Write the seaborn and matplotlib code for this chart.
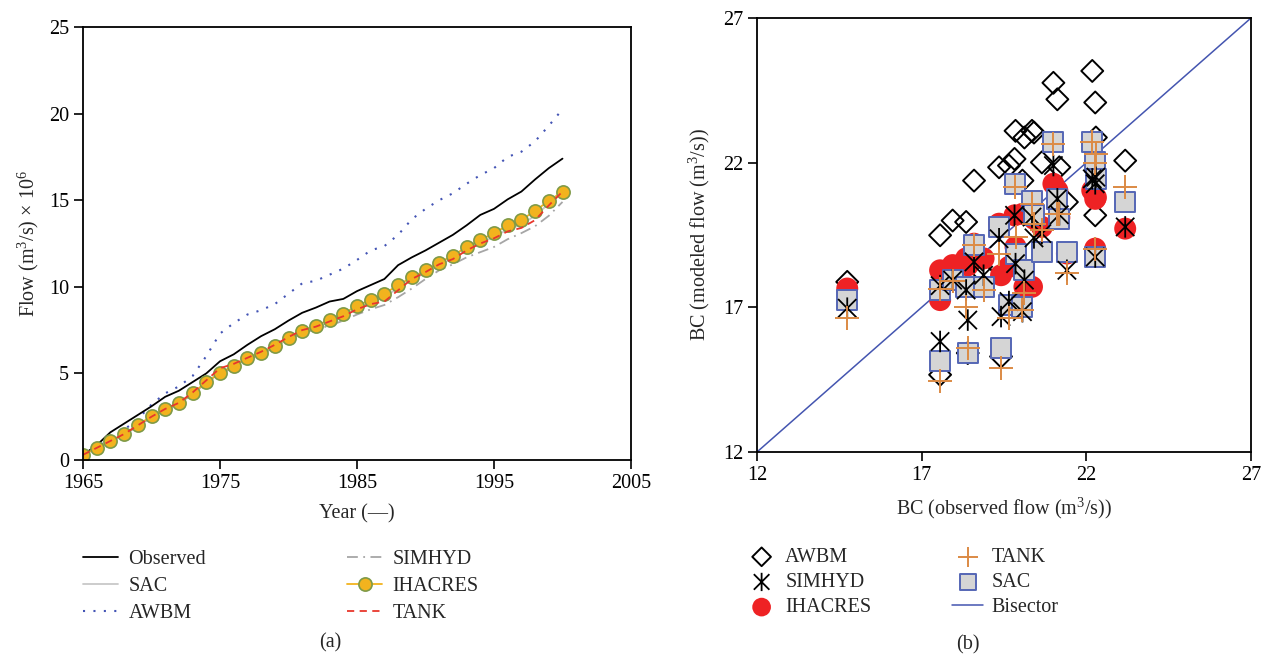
import numpy as np
import pandas as pd
import matplotlib
matplotlib.use("Agg")
import matplotlib.pyplot as plt
from matplotlib.path import Path
import seaborn as sns

# ---------------- data: panel (a) cumulative flow ----------------
years = list(range(1965, 2001))
observed = [0.3, 0.85, 1.6, 2.1, 2.6, 3.1, 3.65, 4.0, 4.5, 5.0, 5.7, 6.1, 6.65, 7.15, 7.55, 8.05,
            8.5, 8.8, 9.15, 9.3, 9.75, 10.1, 10.45, 11.25, 11.7, 12.1, 12.55, 13.0, 13.55, 14.15,
            14.5, 15.05, 15.5, 16.2, 16.85, 17.4]
sac = [0.3, 0.68, 1.08, 1.48, 1.98, 2.5, 2.9, 3.25, 3.82, 4.5, 5.05, 5.4, 5.85, 6.15, 6.55, 7.0,
       7.4, 7.65, 7.95, 8.3, 8.75, 9.1, 9.4, 9.95, 10.4, 10.8, 11.25, 11.65, 12.1, 12.5, 12.9,
       13.3, 13.6, 14.1, 14.8, 15.4]
awbm = [0.3, 0.75, 1.25, 1.75, 2.35, 3.2, 3.85, 4.25, 4.85, 6.0, 7.3, 7.9, 8.4, 8.65, 9.0, 9.6,
        10.2, 10.35, 10.7, 11.05, 11.55, 12.1, 12.35, 13.0, 13.9, 14.5, 15.0, 15.4, 15.95, 16.45,
        16.85, 17.5, 17.8, 18.4, 19.3, 20.25]
simhyd = [0.3, 0.68, 1.05, 1.45, 1.95, 2.45, 2.9, 3.25, 3.8, 4.45, 4.95, 5.35, 5.8, 6.1, 6.5,
          6.95, 7.3, 7.55, 7.75, 8.05, 8.4, 8.7, 8.95, 9.4, 9.9, 10.45, 10.95, 11.3, 11.7, 12.0,
          12.3, 12.75, 13.1, 13.5, 14.1, 14.9]
ihacres = [0.3, 0.7, 1.1, 1.5, 2.0, 2.55, 2.95, 3.3, 3.85, 4.5, 5.0, 5.45, 5.9, 6.2, 6.6, 7.05,
           7.45, 7.75, 8.1, 8.45, 8.9, 9.25, 9.6, 10.1, 10.55, 10.95, 11.4, 11.8, 12.3, 12.7,
           13.1, 13.55, 13.85, 14.4, 14.95, 15.5]
tank = [0.3, 0.7, 1.1, 1.5, 2.0, 2.5, 2.95, 3.3, 3.9, 4.6, 5.3, 5.55, 5.9, 6.25, 6.65, 7.1, 7.5,
        7.7, 8.0, 8.3, 8.7, 9.0, 9.15, 9.8, 10.45, 10.85, 11.3, 11.6, 12.1, 12.5, 12.8, 13.2,
        13.4, 13.85, 14.7, 15.5]
left_xticks = [1965, 1975, 1985, 1995, 2005]
left_yticks = [0, 5, 10, 15, 20, 25]

# ---------------- data: panel (b) BC scatter ----------------
bc_obs = [14.74, 17.56, 17.56, 17.94, 18.35, 18.40, 18.59, 18.88, 19.35, 19.41, 19.65, 19.82,
          19.85, 20.12, 20.06, 20.35, 20.41, 20.65, 21.0, 21.12, 21.18, 21.41, 22.18, 22.27,
          22.29, 22.27, 23.18]
bc_awbm = [17.88, 19.49, 14.67, 20.0, 19.95, 15.42, 21.38, 18.17, 21.84, 15.3, 21.9, 22.13,
           23.1, 22.87, 21.38, 23.1, 23.04, 22.01, 24.76, 24.19, 21.84, 20.64, 25.17, 24.08,
           22.87, 20.18, 22.07]
bc_simhyd = [16.97, 17.75, 15.82, 17.94, 17.6, 16.56, 18.57, 18.11, 19.37, 16.68, 17.2, 20.18,
             18.51, 17.94, 16.85, 20.12, 19.4, 19.55, 21.9, 20.75, 20.2, 18.28, 21.44, 21.27,
             21.5, 18.74, 19.78]
bc_ihacres = [17.65, 18.28, 17.25, 18.46, 18.69, 18.45, 19.2, 18.69, 19.89, 18.11, 18.4, 20.18,
              19.09, 17.71, 20.23, 17.71, 20.06, 19.78, 21.27, 21.04, 20.1, 18.86, 21.04, 20.75,
              20.8, 19.03, 19.72]
bc_tank = [16.62, 17.65, 14.44, 17.9, 17.02, 15.6, 19.14, 17.6, 18.86, 14.9, 16.62, 21.15,
           19.43, 17.48, 16.91, 20.58, 19.89, 19.66, 22.64, 20.23, 20.23, 18.17, 22.7, 22.0,
           22.3, 19.03, 21.15]
bc_sac = [17.25, 17.6, 15.13, 17.94, 17.71, 15.42, 19.14, 17.71, 19.78, 15.6, 17.08, 21.27,
          18.86, 18.28, 17.02, 20.69, 20.2, 18.91, 22.7, 20.75, 20.06, 18.91, 22.7, 22.01,
          21.44, 18.74, 20.64]
bisector = [12, 27]
right_ticks = [12, 17, 22, 27]

# ---------------- style ----------------
sns.set_style("ticks")
plt.rcParams["font.family"] = ["Liberation Serif", "DejaVu Serif"]
plt.rcParams["mathtext.fontset"] = "custom"
plt.rcParams["mathtext.rm"] = "Liberation Serif"
plt.rcParams["mathtext.it"] = "Liberation Serif:italic"
plt.rcParams["axes.edgecolor"] = "black"
plt.rcParams["axes.linewidth"] = 1.3
plt.rcParams["xtick.color"] = "black"
plt.rcParams["ytick.color"] = "black"

FS_TICK = 14.5
FS_LAB = 14.5

fig = plt.figure(figsize=(12.7, 6.59), dpi=100)
axL = fig.add_axes([83 / 1270, 1 - 460 / 659, 548 / 1270, 433 / 659])
axR = fig.add_axes([757 / 1270, 1 - 452 / 659, 494 / 1270, 434 / 659])

# ---------------- panel (a) ----------------
dfL = pd.DataFrame({"year": years, "Observed": observed, "SAC": sac, "AWBM": awbm,
                    "SIMHYD": simhyd, "IHACRES": ihacres, "TANK": tank})

line_specs = {
    "Observed": dict(color="black", linewidth=1.3, linestyle="-"),
    "SAC": dict(color="#c8c8c8", linewidth=1.3, linestyle="-"),
    "AWBM": dict(color="#4455b5", linewidth=1.5, linestyle=(0, (1, 4))),
    "SIMHYD": dict(color="#a6a6a6", linewidth=1.3, linestyle=(0, (6, 3, 1, 3))),
    "IHACRES": dict(color="#f2b31e", linewidth=1.3, linestyle="-", marker="o", markersize=9.5,
                    markerfacecolor="#f2b31e", markeredgecolor="#7f9a47", markeredgewidth=1.2),
    "TANK": dict(color="#e8372c", linewidth=1.3, linestyle=(0, (4, 3))),
}
draw_order = ["SAC", "SIMHYD", "AWBM", "Observed", "IHACRES", "TANK"]
handlesL = {}
for name in draw_order:
    n_before = len(axL.lines)
    sns.lineplot(data=dfL, x="year", y=name, ax=axL, errorbar=None, label=name,
                 legend=False, **line_specs[name])
    handlesL[name] = axL.lines[n_before]

axL.set_xlim(1965, 2005)
axL.set_ylim(0, 25)
axL.set_xticks(left_xticks)
axL.set_yticks(left_yticks)
axL.tick_params(direction="out", length=6.5, width=1.2, labelsize=FS_TICK,
                top=False, right=False)
axL.set_xlabel("Year (—)", fontsize=FS_LAB, labelpad=8)
axL.set_ylabel("Flow (m$^{3}$/s) × 10$^{6}$", fontsize=FS_LAB, labelpad=6)
for s in axL.spines.values():
    s.set_visible(True)
    s.set_linewidth(1.3)

leg_order_L = ["Observed", "SAC", "AWBM", "SIMHYD", "IHACRES", "TANK"]
fig.legend([handlesL[n] for n in leg_order_L], leg_order_L, loc="upper left",
           bbox_to_anchor=(83 / 1270, 1 - 550 / 659), ncol=2, frameon=False,
           fontsize=FS_LAB, handlelength=1.75, handletextpad=0.5, columnspacing=7.0,
           labelspacing=0.38, borderpad=0, borderaxespad=0)
fig.text(330 / 1270, 1 - 643 / 659, "(a)", ha="center", va="center", fontsize=FS_LAB)

# ---------------- panel (b) ----------------
dfR = pd.DataFrame({"obs": bc_obs, "AWBM": bc_awbm, "SIMHYD": bc_simhyd,
                    "IHACRES": bc_ihacres, "TANK": bc_tank, "SAC": bc_sac})

asterisk = Path([(0, -1), (0, 1), (-0.85, -0.85), (0.85, 0.85), (-0.85, 0.85), (0.85, -0.85)],
                [Path.MOVETO, Path.LINETO, Path.MOVETO, Path.LINETO, Path.MOVETO, Path.LINETO])

sns.lineplot(x=bisector, y=bisector, ax=axR, color="#4455b0", linewidth=1.1,
             errorbar=None, legend=False)
bis_handle = axR.lines[-1]

scatter_specs = {
    "AWBM": dict(marker="D", s=125, color="black", facecolor="none", edgecolor="black",
                 linewidth=1.4),
    "IHACRES": dict(marker="o", s=250, color="#ee2224", edgecolor="none", linewidth=0),
    "SAC": dict(marker="s", s=190, color="#d5d5d5", facecolor="#d5d5d5", edgecolor="#5566b5",
                linewidth=1.4),
    "SIMHYD": dict(marker=asterisk, s=240, color="black", facecolor="none", edgecolor="black",
                   linewidth=1.3),
    "TANK": dict(marker="+", s=300, color="#dc8a44", linewidth=1.4),
}
handlesR = {}
for name in ["AWBM", "IHACRES", "SAC", "SIMHYD", "TANK"]:
    n_before = len(axR.collections)
    sns.scatterplot(data=dfR, x="obs", y=name, ax=axR, legend=False, zorder=3,
                    **scatter_specs[name])
    handlesR[name] = axR.collections[n_before]

axR.set_xlim(12, 27)
axR.set_ylim(12, 27)
axR.set_xticks(right_ticks)
axR.set_yticks(right_ticks)
axR.tick_params(direction="out", length=6.5, width=1.2, labelsize=FS_TICK,
                top=False, right=False)
axR.set_xlabel("BC (observed flow (m$^{3}$/s))", fontsize=FS_LAB, labelpad=8)
axR.set_ylabel("BC (modeled flow (m$^{3}$/s))", fontsize=FS_LAB, labelpad=8)
for s in axR.spines.values():
    s.set_visible(True)
    s.set_linewidth(1.3)

leg_order_R = ["AWBM", "SIMHYD", "IHACRES", "TANK", "SAC", "Bisector"]
hR = [handlesR["AWBM"], handlesR["SIMHYD"], handlesR["IHACRES"], handlesR["TANK"],
      handlesR["SAC"], bis_handle]
fig.legend(hR, leg_order_R, loc="upper left", bbox_to_anchor=(746 / 1270, 1 - 548 / 659),
           ncol=2, frameon=False, fontsize=FS_LAB, handlelength=1.55, handletextpad=0.4,
           columnspacing=4.0, labelspacing=0.3, borderpad=0, borderaxespad=0,
           markerscale=0.85, scatterpoints=1)
fig.text(968 / 1270, 1 - 645 / 659, "(b)", ha="center", va="center", fontsize=FS_LAB)

fig.savefig("out.png", dpi=100)
